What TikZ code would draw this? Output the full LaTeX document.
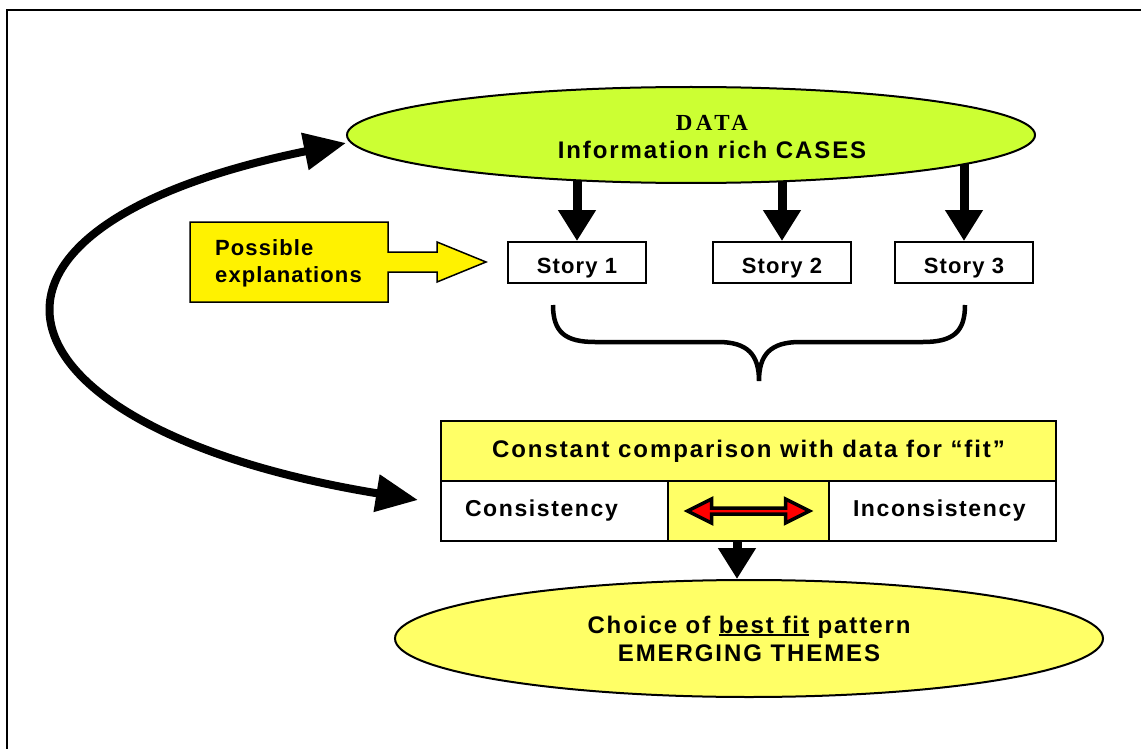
\documentclass[tikz,border=0pt]{standalone}
\usepackage{fontspec}
\setmainfont{Liberation Sans}
\newfontfamily\datafont{Liberation Serif}
\usepackage{tikz}
\usetikzlibrary{arrows.meta}
\usetikzlibrary{shapes.geometric}
\usetikzlibrary{calc}
\definecolor{casegreen}{RGB}{204,255,51}
\definecolor{fitgold}{RGB}{255,255,102}
\newcommand{\fitline}[1]{\setbox0\hbox{#1}\rlap{\rule[-3pt]{\wd0}{2pt}}\box0\relax}
\tikzset{themefont/.style = {font = \bfseries\fontsize{24}{28}\selectfont\addfontfeature{LetterSpace = 8}}}
\tikzset{cellfont/.style = {font = \bfseries\fontsize{23}{27}\selectfont\addfontfeature{LetterSpace = 7}}}
\tikzset{boxfont/.style = {font = \bfseries\fontsize{22}{27}\selectfont\addfontfeature{LetterSpace = 5}}}
\tikzset{story/.style = {draw, fill = white, line width = 2, minimum width = 138, minimum height = 41, inner sep = 0, text height = 22pt, text depth = 0pt, boxfont}}
\tikzset{oval/.style = {draw, ellipse, line width = 2, inner sep = 0}}
\tikzset{cell/.style = {draw, fill = white, line width = 2, outer sep = 0, minimum height = 60, inner ysep = 0, inner xsep = 24, text width = 179, align = left, cellfont}}
\tikzset{dnarrow/.style = {line width = 9, -{Triangle[length = 31pt, width = 36pt]}}}
\tikzset{feedback/.style = {line width = 8, {Triangle[length = 42pt, width = 36pt]}-{Triangle[length = 42pt, width = 36pt]}}}

\begin{document}
\begin{tikzpicture}[x = 1pt, y = -1pt]
    \useasboundingbox (0, 0) rectangle (1141, 749);
    \clip (0, 0) rectangle (1141, 749);
    \draw [line width = 2] (7, 10) rectangle (1170, 780);

    % the cases and the three stories
    \node [oval, fill = casegreen, minimum width = 688, minimum height = 96] (data) at (691, 135) {};
    \node [themefont, align = center] (datatxt) at (712, 137) {{\datafont\fontsize{23}{28}\selectfont\addfontfeature{LetterSpace = 15}DATA}\\Information rich CASES};

    \node [story] (s1) at (577, 262.5) {Story 1};
    \node [story] (s2) at (782, 262.5) {Story 2};
    \node [story] (s3) at (964, 262.5) {Story 3};

    \draw [dnarrow] (data.-158 -| s1.north) -- (s1.north);
    \draw [dnarrow] (data.-27 -| s2.north) -- (s2.north);
    \draw [dnarrow] (data.-6 -| s3.north) -- (s3.north);

    % block arrow
    \draw [line width = 1.5, fill = yellow] (190, 222) -- (388, 222) -- (388, 252) -- (437, 252) -- (437, 242) -- (486, 262)
        -- (437, 282) -- (437, 272) -- (388, 272) -- (388, 302) -- (190, 302) -- cycle;
    \node [boxfont, align = left, anchor = west, inner sep = 0] (expl) at (215, 263) {Possible\\explanations};

    % brace under the stories
    \draw [line width = 4.5] (553, 305) .. controls (553, 332) and (565, 342) .. (595, 342) -- (718, 342)
        .. controls (748, 342) and (759, 355) .. (759, 381) .. controls (759, 355) and (770, 342) .. (800, 342)
        -- (923, 342) .. controls (953, 342) and (965, 332) .. (965, 305);

    % comparison block
    \node [draw, fill = fitgold, line width = 2, outer sep = 0, minimum width = 615, minimum height = 60, inner sep = 0, themefont] (fit) at (748.5, 451) {Constant comparison with data for ``fit''};
    \filldraw [fill = fitgold, line width = 2] (fit.south west) rectangle ($(fit.south east) + (0, 60)$);
    \node [cell, anchor = north west] (cons) at (fit.south west) {Consistency};
    \node [cell, anchor = north east] (incons) at (fit.south east) {Inconsistency};

    \coordinate (swap) at ($(cons.east)!0.5!(incons.west)$);
    \draw [line width = 3.5, fill = red, line join = miter] ($(swap) + (-61, 0)$) -- ++(24, -12) -- ++(0, 9) -- ++(74, 0) -- ++(0, -9)
        -- ++(24, 12) -- ++(-24, 12) -- ++(0, -9) -- ++(-74, 0) -- ++(0, 9) -- cycle;

    % emerging themes
    \node [oval, fill = fitgold, minimum width = 708, minimum height = 117, themefont, align = center] (themes) at (749, 638.5) {Choice of \fitline{best fit} pattern\\EMERGING THEMES};

    \coordinate (fitout) at (737, 541);
    \draw [dnarrow] (fitout) -- (fitout |- themes.north);

    \draw [feedback] ([yshift = -8pt]data.west) .. controls (-80, 230) and (-10, 430) .. ([xshift = -23pt, yshift = 11pt]cons.west);
\end{tikzpicture}
\end{document}
